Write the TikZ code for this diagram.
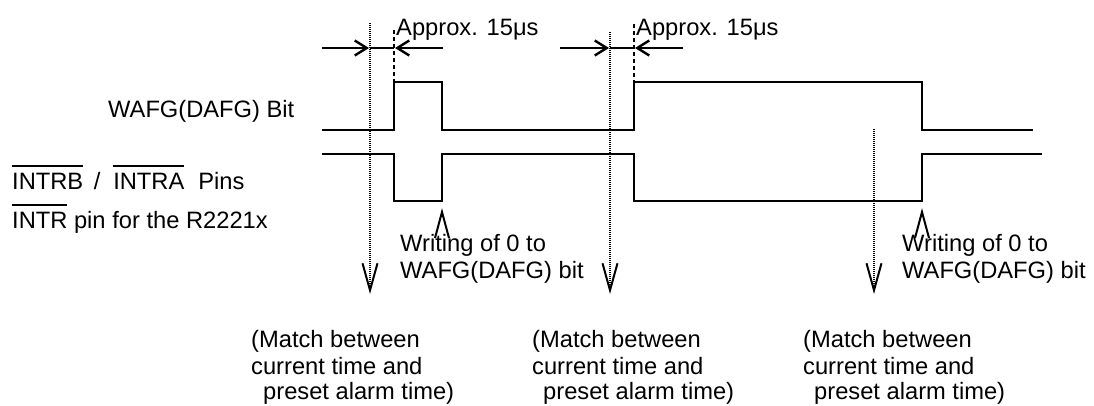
\documentclass[tikz,border=0pt]{standalone}
\usepackage{fontspec}
\setmainfont{Liberation Sans}
\usetikzlibrary{arrows.meta}
\newcommand\myovl[2][22.5pt]{\setbox0\hbox{#2}\rlap{\rule[#1]{\wd0}{1.2pt}}\box0\relax}
\begin{document}
\begin{tikzpicture}[x=1pt,y=-1pt,
  lbl/.style={font=\fontsize{23.7}{28}\selectfont, inner sep=0pt, anchor=base west},
  sigline/.style={line width=1.4pt},
  dotline/.style={line width=2pt, dash pattern=on 1.2pt off 0.8pt},
  dashline/.style={line width=1.1pt, dash pattern=on 4pt off 3pt},
  downarr/.style={-{Straight Barb[length=27pt,width=15pt,line width=2pt]}},
  horarr/.style={line width=2.6pt,-{Straight Barb[length=12pt,width=15pt,line width=2.4pt]}},
  vhead/.style={line width=2pt}]
\fill[white] (0,0) rectangle (1094,405);
\useasboundingbox (0,0) rectangle (1094,405);

% labels
\node[lbl] (wafg) at (108,117) {WAFG(DAFG) Bit};
\node[lbl] (intrab) at (12,189) {\myovl{INTRB}\hspace{10.7pt}/\hspace{12.7pt}\myovl{INTRA}\hspace{14pt}Pins};
\node[lbl] (intr) at (12,228) {\myovl{INTR} pin for the R2221x};
\node[lbl] (ap1) at (396,35) {Approx. 15μs};
\node[lbl] (ap2) at (636,35) {Approx. 15μs};
\node[lbl] (wr1a) at (400,251) {Writing of 0 to};
\node[lbl] (wr1b) at (400,278) {WAFG(DAFG) bit};
\node[lbl] (wr2a) at (902,251) {Writing of 0 to};
\node[lbl] (wr2b) at (902,278) {WAFG(DAFG) bit};
\node[lbl] (m1a) at (251,347) {(Match between};
\node[lbl] (m1b) at (251,374) {current time and};
\node[lbl] (m1c) at (263,399) {preset alarm time)};
\node[lbl] (m2a) at (532,347) {(Match between};
\node[lbl] (m2b) at (532,374) {current time and};
\node[lbl] (m2c) at (543,399) {preset alarm time)};
\node[lbl] (m3a) at (803,347) {(Match between};
\node[lbl] (m3b) at (803,374) {current time and};
\node[lbl] (m3c) at (814,399) {preset alarm time)};

% waveforms
\draw[sigline] (322,130) -- (394,130) -- (394,82) -- (442,82) -- (442,130) -- (634,130)
  -- (634,82) -- (922,82) -- (922,130) -- (1033,130);
\draw[sigline] (322,154) -- (394,154) -- (394,201) -- (442,201) -- (442,154) -- (634,154)
  -- (634,201) -- (922,201) -- (922,154) -- (1042,154);

% markers
\coordinate (d1t) at (370,23);  \coordinate (d1b) at (370,294);
\coordinate (d2t) at (610,32);  \coordinate (d2b) at (610,294);
\coordinate (d3t) at (874,129); \coordinate (d3b) at (874,294);
\draw[dotline,downarr] (d1t) -- (d1b);
\draw[dotline,downarr] (d2t) -- (d2b);
\draw[dotline,downarr] (d3t) -- (d3b);

\coordinate (e1t) at (394,30); \coordinate (e1b) at (394,82);
\coordinate (e2t) at (634,24); \coordinate (e2b) at (634,82);
\draw[dashline] (e1t) -- (e1b);
\draw[dashline] (e2t) -- (e2b);

% 15us arrows
\coordinate (h1a) at (322,48); \coordinate (h1b) at (369,48);
\coordinate (h1c) at (443,48); \coordinate (h1d) at (395,48);
\coordinate (h2a) at (560,48); \coordinate (h2b) at (609,48);
\coordinate (h2c) at (683,48); \coordinate (h2d) at (635,48);
\draw[horarr] (h1a) -- (h1b);
\draw[horarr] (h1c) -- (h1d);
\draw[horarr] (h2a) -- (h2b);
\draw[horarr] (h2c) -- (h2d);
\draw[line width=1.2pt] (370,48) -- (394,48);
\draw[line width=1.2pt] (610,48) -- (634,48);

% write pointers
\draw[vhead] (435,238) -- (442,212) -- (449,238);
\draw[vhead] (915,238) -- (922,212) -- (929,238);
\end{tikzpicture}
\end{document}
